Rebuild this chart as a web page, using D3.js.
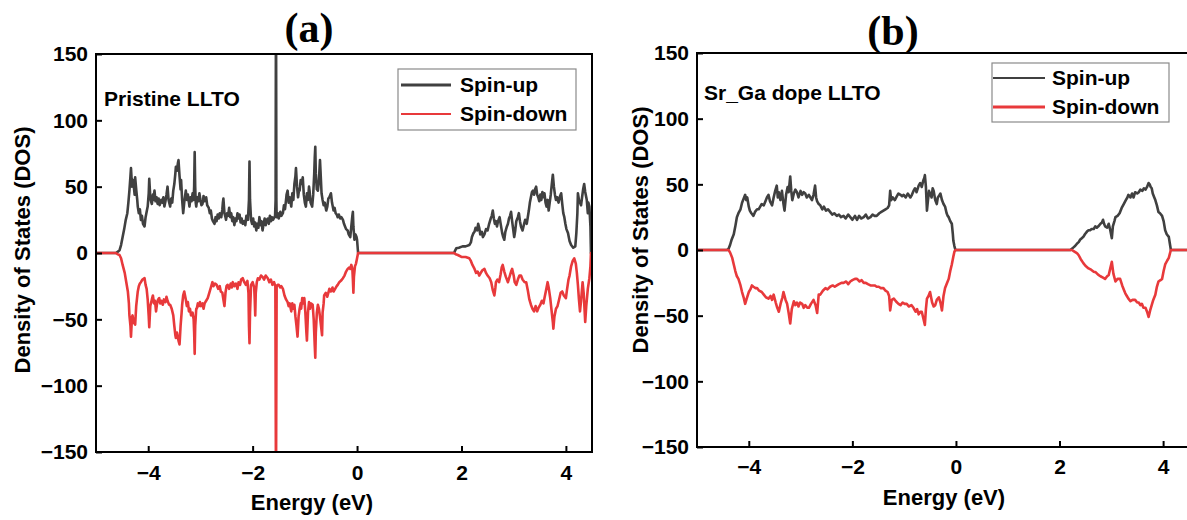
<!DOCTYPE html>
<html>
<head>
<meta charset="utf-8">
<script src="https://d3js.org/d3.v7.min.js"></script>
<style>
    body { margin: 0; background: #fff; }
    .tick text { font-family: "Liberation Sans", Arial, sans-serif; font-size: 21px; font-weight: bold; }
    .tick line { stroke: #000; stroke-width: 2px; }
    .domain { display: none; }
    .lbl { font-family: "Liberation Sans", Arial, sans-serif; font-weight: bold; fill: #000; }
</style>
</head>
<body></body>
<script>
    const width = 1187, height = 520;

    const xTicks = [-4, -2, 0, 2, 4];
    const yTicks = [-150, -100, -50, 0, 50, 100, 150];
    const seriesNames = ["Spin-up", "Spin-down"];
    const colors = ["#404040", "#e8393b"];

    // panel (a) pristine LLTO, [energy eV, DOS]
    const aUp = [[-5,0],[-4.62,0],[-4.58,1],[-4.55,2],[-4.52,6],[-4.49,12],[-4.46,18],[-4.43,25],[-4.40,30],[-4.38,38],[-4.36,47],[-4.34,58],[-4.33,64],[-4.31,50],[-4.29,55],[-4.28,52],[-4.26,44],[-4.25,57],[-4.23,48],[-4.21,40],[-4.20,35],[-4.18,30],[-4.16,33],[-4.14,25],[-4.12,28],[-4.10,22],[-4.07,20],[-4.05,27],[-4.03,31],[-4.01,35],[-3.99,45],[-3.98,56],[-3.96,42],[-3.94,38],[-3.93,37],[-3.91,44],[-3.90,40],[-3.88,47],[-3.86,39],[-3.84,42],[-3.82,37],[-3.80,41],[-3.78,36],[-3.75,40],[-3.73,38],[-3.71,42],[-3.69,35],[-3.67,39],[-3.65,44],[-3.63,50],[-3.61,40],[-3.58,35],[-3.56,41],[-3.54,38],[-3.52,47],[-3.50,52],[-3.48,60],[-3.47,65],[-3.45,62],[-3.43,68],[-3.42,70],[-3.40,58],[-3.38,48],[-3.37,55],[-3.35,40],[-3.33,30],[-3.31,38],[-3.29,44],[-3.28,47],[-3.26,40],[-3.24,44],[-3.22,38],[-3.21,35],[-3.19,42],[-3.17,39],[-3.15,45],[-3.13,40],[-3.12,50],[-3.11,76],[-3.10,50],[-3.09,38],[-3.08,35],[-3.06,42],[-3.04,39],[-3.02,45],[-3.00,40],[-2.98,36],[-2.96,37],[-2.94,43],[-2.92,39],[-2.89,42],[-2.87,36],[-2.84,34],[-2.82,30],[-2.80,32],[-2.78,26],[-2.76,24],[-2.73,22],[-2.71,27],[-2.69,24],[-2.67,29],[-2.65,26],[-2.63,30],[-2.60,27],[-2.58,33],[-2.57,38],[-2.56,41],[-2.54,30],[-2.52,27],[-2.51,25],[-2.49,30],[-2.47,28],[-2.45,34],[-2.43,27],[-2.41,30],[-2.39,24],[-2.37,27],[-2.35,21],[-2.33,26],[-2.31,24],[-2.29,30],[-2.27,26],[-2.25,29],[-2.23,23],[-2.21,26],[-2.19,22],[-2.16,24],[-2.14,21],[-2.12,28],[-2.09,25],[-2.07,40],[-2.06,69],[-2.05,40],[-2.03,25],[-2.01,22],[-1.99,26],[-1.97,20],[-1.95,23],[-1.93,17],[-1.91,22],[-1.89,19],[-1.87,27],[-1.85,21],[-1.83,24],[-1.81,17],[-1.79,22],[-1.77,26],[-1.75,21],[-1.73,25],[-1.71,26],[-1.69,22],[-1.67,28],[-1.65,24],[-1.63,27],[-1.61,25],[-1.57,28],[-1.56,40],[-1.555,150],[-1.55,150],[-1.545,40],[-1.54,27],[-1.52,30],[-1.50,26],[-1.47,31],[-1.45,28],[-1.42,30],[-1.40,36],[-1.38,33],[-1.36,40],[-1.35,44],[-1.33,47],[-1.31,38],[-1.29,42],[-1.26,35],[-1.24,45],[-1.22,40],[-1.20,52],[-1.18,58],[-1.17,64],[-1.15,50],[-1.13,42],[-1.11,48],[-1.10,47],[-1.08,55],[-1.06,52],[-1.04,57],[-1.02,44],[-1.00,38],[-0.98,35],[-0.96,45],[-0.94,40],[-0.92,50],[-0.91,47],[-0.89,38],[-0.86,35],[-0.84,44],[-0.82,60],[-0.81,72],[-0.80,80],[-0.79,60],[-0.77,48],[-0.75,47],[-0.73,55],[-0.71,70],[-0.70,62],[-0.68,45],[-0.66,40],[-0.64,36],[-0.62,38],[-0.59,32],[-0.57,35],[-0.55,41],[-0.53,42],[-0.50,45],[-0.48,38],[-0.45,32],[-0.43,34],[-0.41,30],[-0.39,29],[-0.37,27],[-0.35,29],[-0.32,26],[-0.30,27],[-0.27,25],[-0.25,22],[-0.23,20],[-0.21,18],[-0.18,17],[-0.16,14],[-0.13,12],[-0.11,20],[-0.09,28],[-0.08,31],[-0.07,20],[-0.05,10],[-0.03,14],[-0.01,12],[0.00,10],[0.02,0],[1.86,0],[1.88,2],[1.90,3.5],[1.95,4],[2.02,5],[2.08,5],[2.15,6],[2.18,8],[2.20,12],[2.23,15],[2.25,16],[2.27,19],[2.30,17],[2.32,22],[2.34,19],[2.36,14],[2.39,16],[2.41,12],[2.44,14],[2.47,18],[2.50,17],[2.53,22],[2.56,26],[2.58,28],[2.60,32],[2.62,26],[2.64,22],[2.66,24],[2.68,20],[2.70,24],[2.73,27],[2.75,22],[2.78,15],[2.80,12],[2.82,10],[2.84,16],[2.87,20],[2.89,22],[2.91,26],[2.93,28],[2.95,31],[2.97,24],[2.99,18],[3.01,12],[3.03,17],[3.05,24],[3.08,27],[3.10,30],[3.12,24],[3.14,20],[3.17,17],[3.20,22],[3.22,25],[3.25,22],[3.27,27],[3.29,32],[3.31,38],[3.33,42],[3.35,46],[3.37,47],[3.39,44],[3.41,48],[3.43,50],[3.45,44],[3.47,42],[3.49,39],[3.51,44],[3.53,40],[3.55,46],[3.57,42],[3.59,45],[3.61,38],[3.63,35],[3.65,40],[3.67,32],[3.69,38],[3.71,44],[3.73,52],[3.75,59],[3.77,50],[3.79,44],[3.81,40],[3.83,42],[3.86,38],[3.88,42],[3.91,45],[3.93,37],[3.95,30],[3.97,27],[3.99,22],[4.01,18],[4.04,15],[4.07,9],[4.10,6],[4.14,4],[4.18,5],[4.20,15],[4.22,30],[4.23,45],[4.25,40],[4.27,38],[4.29,36],[4.31,42],[4.33,48],[4.35,52],[4.37,46],[4.39,42],[4.40,40],[4.42,30],[4.43,38],[4.45,35],[4.47,20],[4.48,0],[4.5,0]];
    const aDown = [[-5,0],[-4.62,0],[-4.58,-1],[-4.55,-1.5],[-4.52,-4],[-4.49,-9],[-4.45,-15],[-4.42,-22],[-4.39,-29],[-4.37,-38],[-4.36,-47],[-4.34,-55],[-4.33,-63],[-4.31,-48],[-4.30,-47],[-4.28,-52],[-4.25,-54],[-4.23,-40],[-4.20,-29],[-4.18,-25],[-4.16,-23],[-4.14,-22],[-4.11,-20],[-4.07,-19],[-4.05,-24],[-4.03,-27],[-4.01,-35],[-3.99,-48],[-3.98,-56],[-3.96,-40],[-3.93,-35],[-3.91,-32],[-3.89,-38],[-3.87,-36],[-3.85,-44],[-3.83,-38],[-3.81,-35],[-3.79,-34],[-3.77,-38],[-3.75,-36],[-3.72,-39],[-3.70,-35],[-3.67,-37],[-3.65,-33],[-3.63,-36],[-3.60,-39],[-3.58,-39],[-3.55,-42],[-3.52,-47],[-3.50,-55],[-3.48,-62],[-3.47,-64],[-3.45,-60],[-3.42,-66],[-3.40,-69],[-3.38,-55],[-3.36,-45],[-3.35,-39],[-3.33,-32],[-3.31,-29],[-3.28,-35],[-3.26,-40],[-3.24,-37],[-3.22,-44],[-3.20,-42],[-3.18,-47],[-3.15,-45],[-3.13,-50],[-3.12,-60],[-3.11,-76],[-3.10,-55],[-3.08,-42],[-3.07,-42],[-3.05,-38],[-3.03,-40],[-3.01,-37],[-2.99,-40],[-2.96,-38],[-2.94,-42],[-2.92,-38],[-2.89,-36],[-2.86,-34],[-2.83,-30],[-2.80,-26],[-2.77,-22],[-2.75,-25],[-2.72,-23],[-2.69,-24],[-2.66,-27],[-2.63,-25],[-2.61,-29],[-2.58,-30],[-2.56,-35],[-2.54,-40],[-2.52,-30],[-2.50,-25],[-2.48,-24],[-2.45,-27],[-2.42,-23],[-2.40,-26],[-2.38,-22],[-2.35,-25],[-2.32,-23],[-2.29,-27],[-2.27,-22],[-2.24,-24],[-2.22,-20],[-2.19,-19],[-2.16,-22],[-2.13,-24],[-2.10,-21],[-2.08,-30],[-2.07,-55],[-2.06,-68],[-2.05,-45],[-2.03,-24],[-2.00,-22],[-1.97,-26],[-1.96,-35],[-1.95,-47],[-1.94,-30],[-1.92,-22],[-1.90,-19],[-1.87,-20],[-1.84,-17],[-1.81,-18],[-1.78,-20],[-1.75,-17],[-1.71,-19],[-1.68,-22],[-1.65,-20],[-1.62,-24],[-1.59,-22],[-1.565,-25],[-1.555,-150],[-1.55,-150],[-1.54,-25],[-1.52,-24],[-1.50,-24],[-1.47,-26],[-1.45,-25],[-1.42,-27],[-1.39,-32],[-1.36,-35],[-1.33,-37],[-1.31,-40],[-1.29,-38],[-1.26,-44],[-1.24,-38],[-1.22,-42],[-1.20,-39],[-1.18,-48],[-1.16,-55],[-1.14,-63],[-1.12,-48],[-1.10,-42],[-1.08,-38],[-1.07,-42],[-1.05,-34],[-1.03,-38],[-1.01,-34],[-0.99,-45],[-0.97,-60],[-0.96,-66],[-0.94,-45],[-0.92,-37],[-0.90,-42],[-0.88,-38],[-0.85,-39],[-0.83,-50],[-0.81,-70],[-0.80,-79],[-0.79,-60],[-0.77,-45],[-0.75,-39],[-0.73,-42],[-0.71,-48],[-0.69,-55],[-0.67,-62],[-0.66,-45],[-0.64,-38],[-0.63,-32],[-0.60,-30],[-0.57,-33],[-0.53,-27],[-0.50,-29],[-0.47,-26],[-0.45,-29],[-0.42,-27],[-0.39,-25],[-0.37,-24],[-0.34,-22],[-0.31,-21],[-0.27,-19],[-0.24,-17],[-0.21,-14],[-0.18,-12],[-0.15,-11],[-0.13,-12],[-0.11,-9],[-0.09,-12],[-0.08,-20],[-0.07,-30],[-0.06,-18],[-0.04,-10],[-0.02,-8],[0.00,-4],[0.02,0],[1.86,0],[1.89,-1],[1.93,-1.5],[2.00,-3],[2.08,-3],[2.15,-4],[2.18,-6],[2.21,-9],[2.25,-12],[2.28,-15],[2.31,-14],[2.34,-17],[2.37,-15],[2.40,-13],[2.44,-12],[2.47,-15],[2.50,-17],[2.54,-19],[2.57,-22],[2.60,-28],[2.63,-32],[2.65,-26],[2.66,-22],[2.69,-20],[2.72,-22],[2.75,-16],[2.77,-11],[2.79,-9],[2.82,-14],[2.85,-18],[2.89,-22],[2.92,-18],[2.95,-14],[2.97,-12],[3.00,-17],[3.02,-22],[3.05,-24],[3.08,-20],[3.11,-17],[3.14,-17],[3.17,-20],[3.21,-22],[3.24,-22],[3.27,-28],[3.30,-35],[3.33,-39],[3.36,-42],[3.39,-44],[3.42,-40],[3.45,-44],[3.48,-41],[3.51,-39],[3.54,-36],[3.57,-38],[3.59,-34],[3.62,-28],[3.65,-22],[3.67,-26],[3.70,-34],[3.73,-45],[3.75,-52],[3.76,-57],[3.78,-48],[3.81,-42],[3.84,-40],[3.87,-35],[3.90,-30],[3.93,-29],[3.96,-32],[4.00,-34],[4.02,-28],[4.05,-20],[4.07,-17],[4.10,-10],[4.13,-6],[4.16,-4],[4.19,-8],[4.21,-15],[4.23,-24],[4.25,-35],[4.27,-44],[4.29,-36],[4.32,-22],[4.34,-30],[4.37,-52],[4.39,-40],[4.42,-27],[4.45,-19],[4.47,-10],[4.48,0],[4.5,0]];

    // panel (b) Sr_Ga doped LLTO
    const bUp = [[-5,0],[-4.42,0],[-4.39,1],[-4.36,4],[-4.33,8],[-4.29,12],[-4.26,18],[-4.23,25],[-4.20,28],[-4.16,31],[-4.13,36],[-4.10,39],[-4.07,42],[-4.05,38],[-4.03,40],[-4.00,33],[-3.98,30],[-3.95,28],[-3.91,26],[-3.88,29],[-3.84,31],[-3.81,31],[-3.78,33],[-3.75,35],[-3.71,34],[-3.68,37],[-3.65,40],[-3.62,42],[-3.59,37],[-3.55,34],[-3.52,40],[-3.49,45],[-3.46,49],[-3.44,40],[-3.42,44],[-3.39,38],[-3.36,45],[-3.33,35],[-3.31,30],[-3.28,42],[-3.25,48],[-3.23,44],[-3.20,56],[-3.18,45],[-3.16,38],[-3.13,43],[-3.10,46],[-3.07,44],[-3.04,40],[-3.00,45],[-2.97,42],[-2.94,44],[-2.91,43],[-2.88,40],[-2.84,42],[-2.81,40],[-2.78,38],[-2.75,42],[-2.72,49],[-2.70,40],[-2.68,37],[-2.65,35],[-2.62,34],[-2.58,31],[-2.55,33],[-2.51,30],[-2.47,31],[-2.43,29],[-2.39,27],[-2.35,28],[-2.30,26],[-2.26,27],[-2.22,25],[-2.17,26],[-2.13,24],[-2.08,27],[-2.04,25],[-2.00,23],[-1.95,26],[-1.91,23],[-1.87,26],[-1.83,24],[-1.78,25],[-1.74,27],[-1.70,24],[-1.65,25],[-1.61,27],[-1.57,26],[-1.53,26],[-1.48,28],[-1.44,29],[-1.40,30],[-1.36,31],[-1.32,32],[-1.29,34],[-1.27,45],[-1.25,38],[-1.22,40],[-1.18,38],[-1.14,41],[-1.11,43],[-1.07,42],[-1.04,41],[-1.01,42],[-0.97,40],[-0.93,43],[-0.88,40],[-0.85,42],[-0.82,45],[-0.79,47],[-0.76,44],[-0.72,49],[-0.69,51],[-0.66,48],[-0.63,53],[-0.61,55],[-0.60,57],[-0.58,48],[-0.56,30],[-0.54,38],[-0.52,45],[-0.50,43],[-0.47,40],[-0.45,47],[-0.43,45],[-0.40,38],[-0.37,35],[-0.35,40],[-0.33,41],[-0.30,43],[-0.27,38],[-0.24,35],[-0.21,33],[-0.18,28],[-0.16,26],[-0.14,25],[-0.11,22],[-0.08,20],[-0.06,12],[-0.05,7],[-0.03,3],[-0.01,0],[2.21,0],[2.24,1],[2.27,2],[2.30,3],[2.34,5],[2.37,6],[2.40,8],[2.43,9],[2.46,10],[2.49,12],[2.53,14],[2.56,15],[2.59,15],[2.62,16],[2.66,16],[2.69,18],[2.72,17],[2.75,18],[2.79,20],[2.82,21],[2.84,23],[2.86,20],[2.88,18],[2.92,17],[2.95,20],[2.98,15],[3.01,9],[3.03,18],[3.06,22],[3.08,25],[3.12,26],[3.16,28],[3.20,32],[3.24,35],[3.28,38],[3.31,40],[3.33,42],[3.37,40],[3.40,43],[3.43,40],[3.46,44],[3.50,43],[3.53,44],[3.56,46],[3.60,45],[3.63,47],[3.66,46],[3.69,48],[3.72,51],[3.74,50],[3.76,48],[3.78,47],[3.80,43],[3.83,40],[3.85,38],[3.88,34],[3.91,29],[3.94,28],[3.98,26],[4.01,22],[4.04,15],[4.07,12],[4.11,10],[4.13,5],[4.15,0],[4.5,0]];
    const bDown = [[-5,0],[-4.39,0],[-4.36,-2],[-4.32,-6],[-4.29,-11],[-4.26,-16],[-4.23,-20],[-4.20,-22],[-4.16,-27],[-4.13,-32],[-4.10,-36],[-4.07,-41],[-4.04,-37],[-4.00,-32],[-3.97,-30],[-3.94,-27],[-3.91,-28],[-3.87,-29],[-3.84,-29],[-3.80,-31],[-3.75,-32],[-3.71,-34],[-3.67,-36],[-3.62,-37],[-3.58,-35],[-3.55,-38],[-3.52,-34],[-3.48,-40],[-3.45,-44],[-3.42,-47],[-3.38,-40],[-3.35,-36],[-3.33,-32],[-3.29,-38],[-3.26,-41],[-3.23,-48],[-3.20,-56],[-3.17,-45],[-3.13,-39],[-3.10,-42],[-3.07,-40],[-3.04,-43],[-3.01,-40],[-2.97,-41],[-2.94,-44],[-2.91,-42],[-2.87,-44],[-2.84,-44],[-2.80,-41],[-2.75,-38],[-2.71,-42],[-2.68,-48],[-2.65,-34],[-2.62,-34],[-2.57,-31],[-2.52,-29],[-2.48,-30],[-2.43,-28],[-2.38,-27],[-2.34,-28],[-2.30,-27],[-2.26,-26],[-2.21,-25],[-2.17,-25],[-2.12,-24],[-2.08,-26],[-2.04,-24],[-2.00,-23],[-1.95,-22],[-1.91,-22],[-1.86,-24],[-1.82,-23],[-1.78,-25],[-1.74,-25],[-1.70,-26],[-1.65,-27],[-1.61,-27],[-1.57,-27],[-1.53,-28],[-1.49,-28],[-1.45,-29],[-1.40,-29],[-1.36,-31],[-1.32,-32],[-1.29,-35],[-1.27,-46],[-1.24,-38],[-1.20,-37],[-1.16,-39],[-1.11,-41],[-1.07,-42],[-1.03,-40],[-0.99,-41],[-0.95,-41],[-0.91,-43],[-0.86,-42],[-0.82,-44],[-0.78,-47],[-0.75,-45],[-0.72,-49],[-0.69,-47],[-0.66,-47],[-0.63,-52],[-0.60,-57],[-0.58,-45],[-0.56,-37],[-0.53,-35],[-0.50,-32],[-0.46,-40],[-0.43,-43],[-0.40,-42],[-0.37,-38],[-0.33,-36],[-0.30,-40],[-0.27,-46],[-0.24,-35],[-0.21,-29],[-0.17,-25],[-0.14,-22],[-0.11,-16],[-0.08,-11],[-0.05,-5],[-0.03,-1.3],[-0.01,0],[2.24,0],[2.28,-1],[2.32,-2],[2.34,-2.5],[2.37,-4],[2.41,-7],[2.46,-10],[2.50,-12],[2.56,-14],[2.61,-15],[2.66,-16.5],[2.70,-17],[2.75,-19],[2.79,-20],[2.84,-21],[2.88,-22],[2.92,-20],[2.95,-19],[2.98,-14],[3.01,-9],[3.04,-18],[3.08,-24],[3.12,-22],[3.17,-22],[3.21,-27],[3.24,-30],[3.27,-33],[3.30,-35],[3.33,-37],[3.37,-39],[3.41,-38],[3.46,-38],[3.50,-40],[3.53,-40],[3.56,-42],[3.59,-41],[3.62,-44],[3.66,-44],[3.69,-47],[3.72,-51],[3.75,-46],[3.78,-42],[3.81,-38],[3.85,-34],[3.88,-28],[3.91,-24],[3.95,-23],[3.98,-22],[4.01,-16],[4.04,-11],[4.08,-8],[4.11,-6],[4.13,-3],[4.15,0],[4.5,0]];

    const panels = [
        { id: "a", title: "(a)", note: "Pristine LLTO", up: aUp, down: aDown,
          x0: 96, x1: 592, y0: 452, y1: 54, titleX: 309, titleY: 42, noteX: 104, noteY: 106,
          yTitleX: 22, yTitleY: 250, xTitleX: 312, xTitleY: 510, tickPad: 13,
          leg: { x: 398, y: 69, w: 178, h: 61, lx0: 401, lx1: 451, tx: 460, r1: 85, r2: 114, upW: 3, downW: 2 } },
        { id: "b", title: "(b)", note: "Sr_Ga dope LLTO", up: bUp, down: bDown,
          x0: 697, x1: 1189, y0: 447, y1: 53, titleX: 893, titleY: 45, noteX: 704, noteY: 100,
          yTitleX: 640, yTitleY: 230, xTitleX: 944, xTitleY: 505, tickPad: 12,
          leg: { x: 992, y: 63, w: 177, h: 59, lx0: 993, lx1: 1045, tx: 1052, r1: 78, r2: 107, upW: 2, downW: 3 } }
    ];

    const svg = d3.select("body").append("svg").attr("width", width).attr("height", height);

    panels.forEach(p => {
        const x = d3.scaleLinear().domain([-5, 4.5]).range([p.x0, p.x1]);
        const y = d3.scaleLinear().domain([-150, 150]).range([p.y0, p.y1]);
        const g = svg.append("g");

        g.append("clipPath").attr("id", "clip-" + p.id)
            .append("rect")
            .attr("x", p.x0).attr("y", p.y1)
            .attr("width", p.x1 - p.x0).attr("height", p.y0 - p.y1);

        const line = d3.line().x(d => x(d[0])).y(d => y(d[1]));
        const plot = g.append("g").attr("clip-path", `url(#clip-${p.id})`);
        [p.up, p.down].forEach((s, i) => {
            plot.append("path")
                .datum(s)
                .attr("fill", "none")
                .attr("stroke", colors[i])
                .attr("stroke-width", 2.6)
                .attr("stroke-linejoin", "round")
                .attr("d", line);
        });

        g.append("g")
            .attr("transform", `translate(0,${p.y0})`)
            .call(d3.axisBottom(x).tickValues(xTicks).tickSizeInner(-6).tickSizeOuter(0).tickPadding(p.tickPad));
        g.append("g")
            .attr("transform", `translate(${p.x0},0)`)
            .call(d3.axisLeft(y).tickValues(yTicks).tickSizeInner(-6).tickSizeOuter(0).tickPadding(8));

        g.append("rect")
            .attr("x", p.x0).attr("y", p.y1)
            .attr("width", p.x1 - p.x0).attr("height", p.y0 - p.y1)
            .attr("fill", "none").attr("stroke", "#000").attr("stroke-width", 2);

        g.append("text")
            .attr("x", p.titleX).attr("y", p.titleY)
            .attr("text-anchor", "middle")
            .attr("font-family", "'Liberation Serif', 'Times New Roman', serif")
            .attr("font-weight", "bold").attr("font-size", 42)
            .text(p.title);

        g.append("text").attr("class", "lbl")
            .attr("x", p.noteX).attr("y", p.noteY)
            .attr("font-size", 21)
            .text(p.note);

        g.append("text").attr("class", "lbl")
            .attr("x", p.xTitleX).attr("y", p.xTitleY)
            .attr("text-anchor", "middle").attr("font-size", 22)
            .text("Energy (eV)");

        g.append("text").attr("class", "lbl")
            .attr("transform", `translate(${p.yTitleX},${p.yTitleY}) rotate(-90)`)
            .attr("text-anchor", "middle").attr("dy", "0.35em").attr("font-size", 22)
            .text("Density of States (DOS)");

        // legend
        const L = p.leg;
        const lg = g.append("g");
        lg.append("rect")
            .attr("x", L.x).attr("y", L.y).attr("width", L.w).attr("height", L.h)
            .attr("fill", "#fff").attr("stroke", "#8a8a8a").attr("stroke-width", 1.2);
        seriesNames.forEach((name, i) => {
            const ry = i === 0 ? L.r1 : L.r2;
            lg.append("line")
                .attr("x1", L.lx0).attr("x2", L.lx1).attr("y1", ry).attr("y2", ry)
                .attr("stroke", colors[i]).attr("stroke-width", i === 0 ? L.upW : L.downW);
            lg.append("text").attr("class", "lbl")
                .attr("x", L.tx).attr("y", ry).attr("dy", "0.35em")
                .attr("font-size", 21)
                .text(name);
        });
    });
</script>
</html>
